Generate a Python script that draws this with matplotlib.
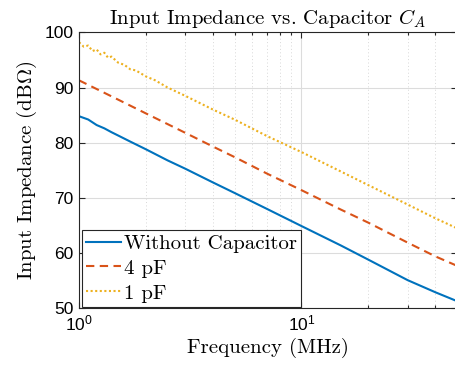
import matplotlib
matplotlib.use("Agg")
import matplotlib.pyplot as plt
import numpy as np

# Data (frequency in MHz, impedance in dBOhm)
freq_no_cap = [1.0, 1.1, 1.2, 1.3, 1.4, 1.5, 1.7, 2.0, 2.5, 3.0, 4.0, 5.0, 7.0, 10.0, 15.0, 20.0, 30.0, 40.0, 50.0]
z_no_cap = [84.8, 84.2, 83.2, 82.6, 81.9, 81.3, 80.2, 78.8, 76.8, 75.3, 72.8, 70.9, 68.0, 64.9, 61.4, 58.8, 55.1, 52.9, 51.3]

freq_4pf = [1.0, 1.5, 2.0, 3.0, 4.0, 5.0, 7.0, 10.0, 15.0, 20.0, 30.0, 40.0, 50.0]
z_4pf = [91.3, 87.8, 85.3, 81.8, 79.3, 77.4, 74.4, 71.4, 67.9, 65.5, 61.9, 59.4, 57.7]

freq_1pf = [1.0, 1.05, 1.1, 1.15, 1.2, 1.25, 1.3, 1.35, 1.4, 1.5, 1.6, 1.7, 1.8, 2.0, 2.2, 2.5, 3.0, 4.0, 5.0, 7.0, 10.0, 15.0, 20.0, 30.0, 40.0, 50.0]
z_1pf = [98.2, 97.4, 97.6, 96.6, 96.9, 96.0, 96.3, 95.4, 95.6, 94.5, 94.1, 93.3, 93.1, 92.0, 91.3, 90.0, 88.5, 86.0, 84.2, 81.2, 78.3, 74.8, 72.3, 68.8, 66.3, 64.5]

series_labels = ["Without Capacitor", "4 pF", "1 pF"]
y_ticks = [50, 60, 70, 80, 90, 100]

plt.rcParams['font.family'] = 'Liberation Sans'
plt.rcParams['mathtext.fontset'] = 'cm'

SERIF = 'cmr10'
FS = 15

fig = plt.figure(figsize=(4.56, 3.71), dpi=100)
ax = fig.add_axes([79/456, 1 - 308.3/371, 378/456, 276/371])

blue = '#0072BD'
orange = '#D95319'
yellow = '#EDB120'

ax.plot(freq_no_cap, z_no_cap, color=blue, lw=1.5, label=series_labels[0])
ax.plot(freq_4pf, z_4pf, color=orange, lw=1.5, dashes=(4, 2.6), label=series_labels[1])
ax.plot(freq_1pf, z_1pf, color=yellow, lw=1.5, dashes=(1, 1.2), label=series_labels[2])

ax.set_xscale('log')
ax.set_xlim(1, 50)
ax.set_ylim(50, 100)
ax.set_yticks(y_ticks)
ax.set_xticks([1, 10])

ax.grid(True, which='major', color='#dcdcdc', lw=0.8, ls='-')
ax.grid(True, which='minor', axis='x', color='#d8d8d8', lw=0.7, ls=(0, (1, 2.5)))
ax.set_axisbelow(True)

ax.tick_params(which='both', direction='in', top=True, right=True, labelsize=12.5, pad=4, width=0.8, color='#262626')
ax.tick_params(which='major', length=4)
ax.tick_params(which='minor', length=2.5)
for s in ax.spines.values():
    s.set_color('#262626')
    s.set_linewidth(0.8)

ax.set_title(r'Input Impedance vs. Capacitor $C_A$', fontfamily=SERIF, fontsize=FS, pad=6)
ax.set_xlabel('Frequency (MHz)', fontfamily=SERIF, fontsize=FS, labelpad=3)
ax.set_ylabel(r'Input Impedance (dB$\Omega$)', fontfamily=SERIF, fontsize=FS, labelpad=4)

leg = ax.legend(loc='lower left', bbox_to_anchor=(0.007, 0.004), borderaxespad=0,
                prop={'family': SERIF, 'size': FS}, fancybox=False, framealpha=1,
                edgecolor='#262626', handlelength=1.65, handletextpad=0.15,
                borderpad=0.22, labelspacing=0.3)
leg.get_frame().set_linewidth(0.8)

fig.savefig('out.png', dpi=100)
